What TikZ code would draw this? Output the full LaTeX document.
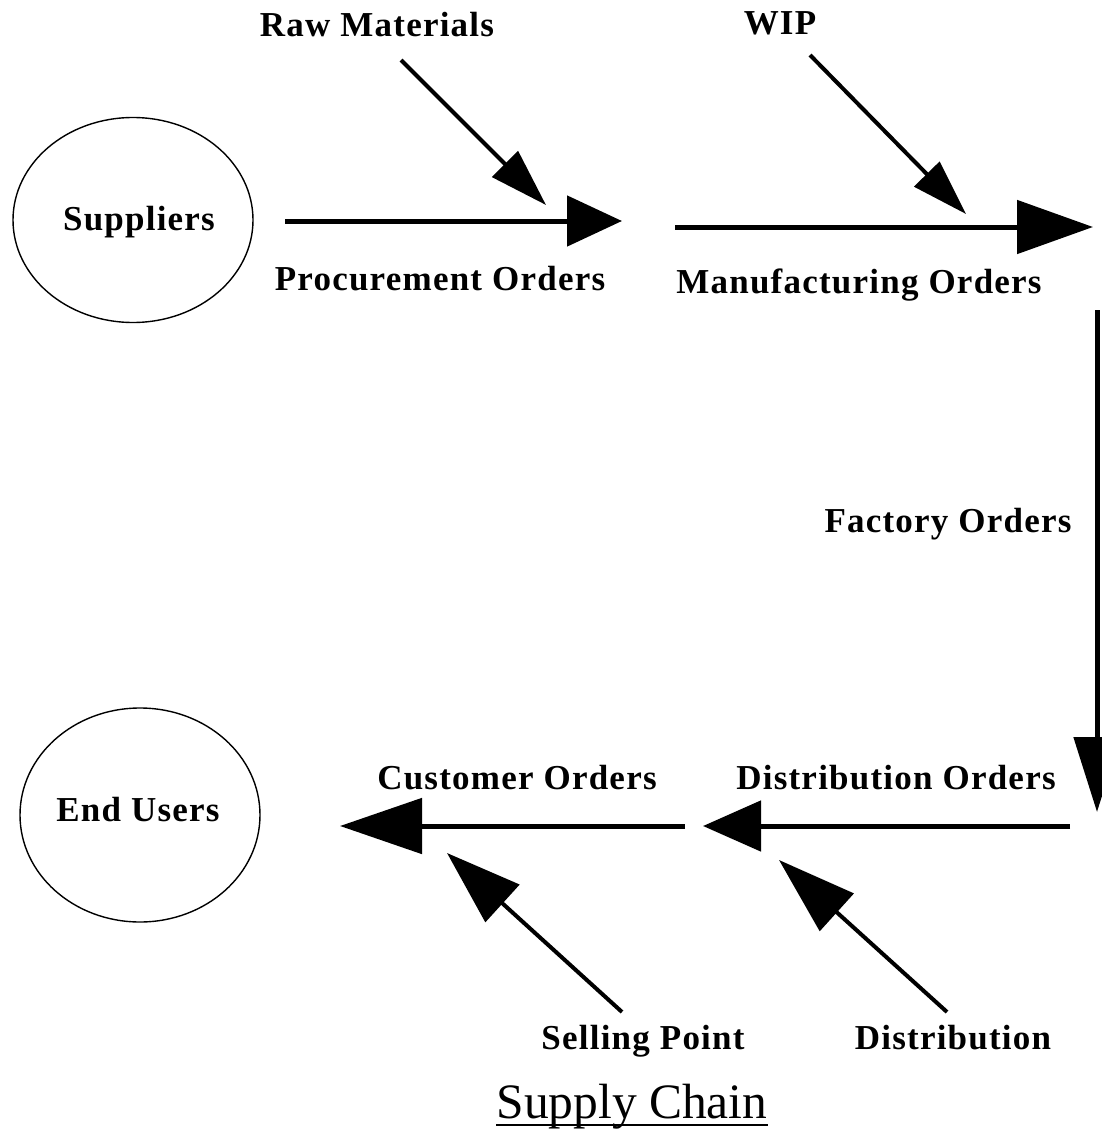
\documentclass[tikz,border=0pt]{standalone}
\usepackage{fontspec}
\setmainfont{Liberation Serif}
\usetikzlibrary{arrows.meta,shapes.geometric}

\begin{document}
\begin{tikzpicture}[x=1pt,y=-1pt,
  party/.style={draw, ellipse, line width=1.4pt, minimum width=240pt, minimum height=205pt, inner sep=0pt},
  lbl/.style={font=\fontsize{35}{40}\selectfont\bfseries\addfontfeatures{LetterSpace=3.5}, inner sep=0pt, anchor=base},
  title/.style={font=\fontsize{49.5}{55}\selectfont, inner sep=0pt, anchor=base},
  flow/.style={line width=5pt, -{Triangle[length=#1]}},
  feed/.style={line width=4pt, -{Triangle[length=#1]}},
]
\clip (0,0) rectangle (1102,1129);
\fill[white] (0,0) rectangle (1102,1129);

% parties at both ends of the chain
\node[party] (sup) at (133,220) {};
\node[party, minimum height=214pt] (usr) at (140,815) {};
\node[lbl] (supT) at (139,230) {Suppliers};
\node[lbl] (usrT) at (138,821) {End Users};

% end points of the flows
\coordinate (pA) at (285,221);   \coordinate (pB) at (622,221);
\coordinate (mA) at (675,227);   \coordinate (mB) at (1093,227);
\coordinate (fA) at (1097,310);  \coordinate (fB) at (1097,812);
\coordinate (dA) at (1070,826);  \coordinate (dB) at (703,826);
\coordinate (cA) at (685,826);   \coordinate (cB) at (340,826);
\coordinate (rA) at (401,60);    \coordinate (rB) at (546,205);
\coordinate (wA) at (810,55);    \coordinate (wB) at (966,214);
\coordinate (sA) at (622,1012);  \coordinate (sB) at (447,853);
\coordinate (tA) at (947,1012);  \coordinate (tB) at (779,860);

% order flows
\draw[flow={55pt,width=50pt}] (pA) -- (pB);
\draw[flow={76pt,width=53pt}] (mA) -- (mB);
\draw[flow={75pt,width=46pt}] (fA) -- (fB);
\draw[flow={58pt,width=50pt}] (dA) -- (dB);
\draw[flow={82pt,width=55pt}] (cA) -- (cB);

% material feeds
\draw[feed={58pt,width=36pt}] (rA) -- (rB);
\draw[feed={56pt,width=35pt}] (wA) -- (wB);
\draw[feed={75pt,width=50pt}] (sA) -- (sB);
\draw[feed={78pt,width=50pt}] (tA) -- (tB);

% labels
\node[lbl] (raw)  at (377,37)   {Raw Materials};
\node[lbl] (wip)  at (780,35)   {WIP};
\node[lbl] (proc) at (440,290)  {Procurement Orders};
\node[lbl] (manu) at (859,293)  {Manufacturing Orders};
\node[lbl] (fact) at (948,532)  {Factory Orders};
\node[lbl] (cust) at (517,789)  {Customer Orders};
\node[lbl] (dist) at (896,789)  {Distribution Orders};
\node[lbl] (sell) at (643,1049) {Selling Point};
\node[lbl] (distr) at (953,1049) {Distribution};

% title
\node[title] (ttl) at (632,1118) {Supply Chain};
\draw[line width=2.5pt] ([yshift=-7pt]ttl.base west) -- ([yshift=-7pt]ttl.base east);
\end{tikzpicture}
\end{document}
